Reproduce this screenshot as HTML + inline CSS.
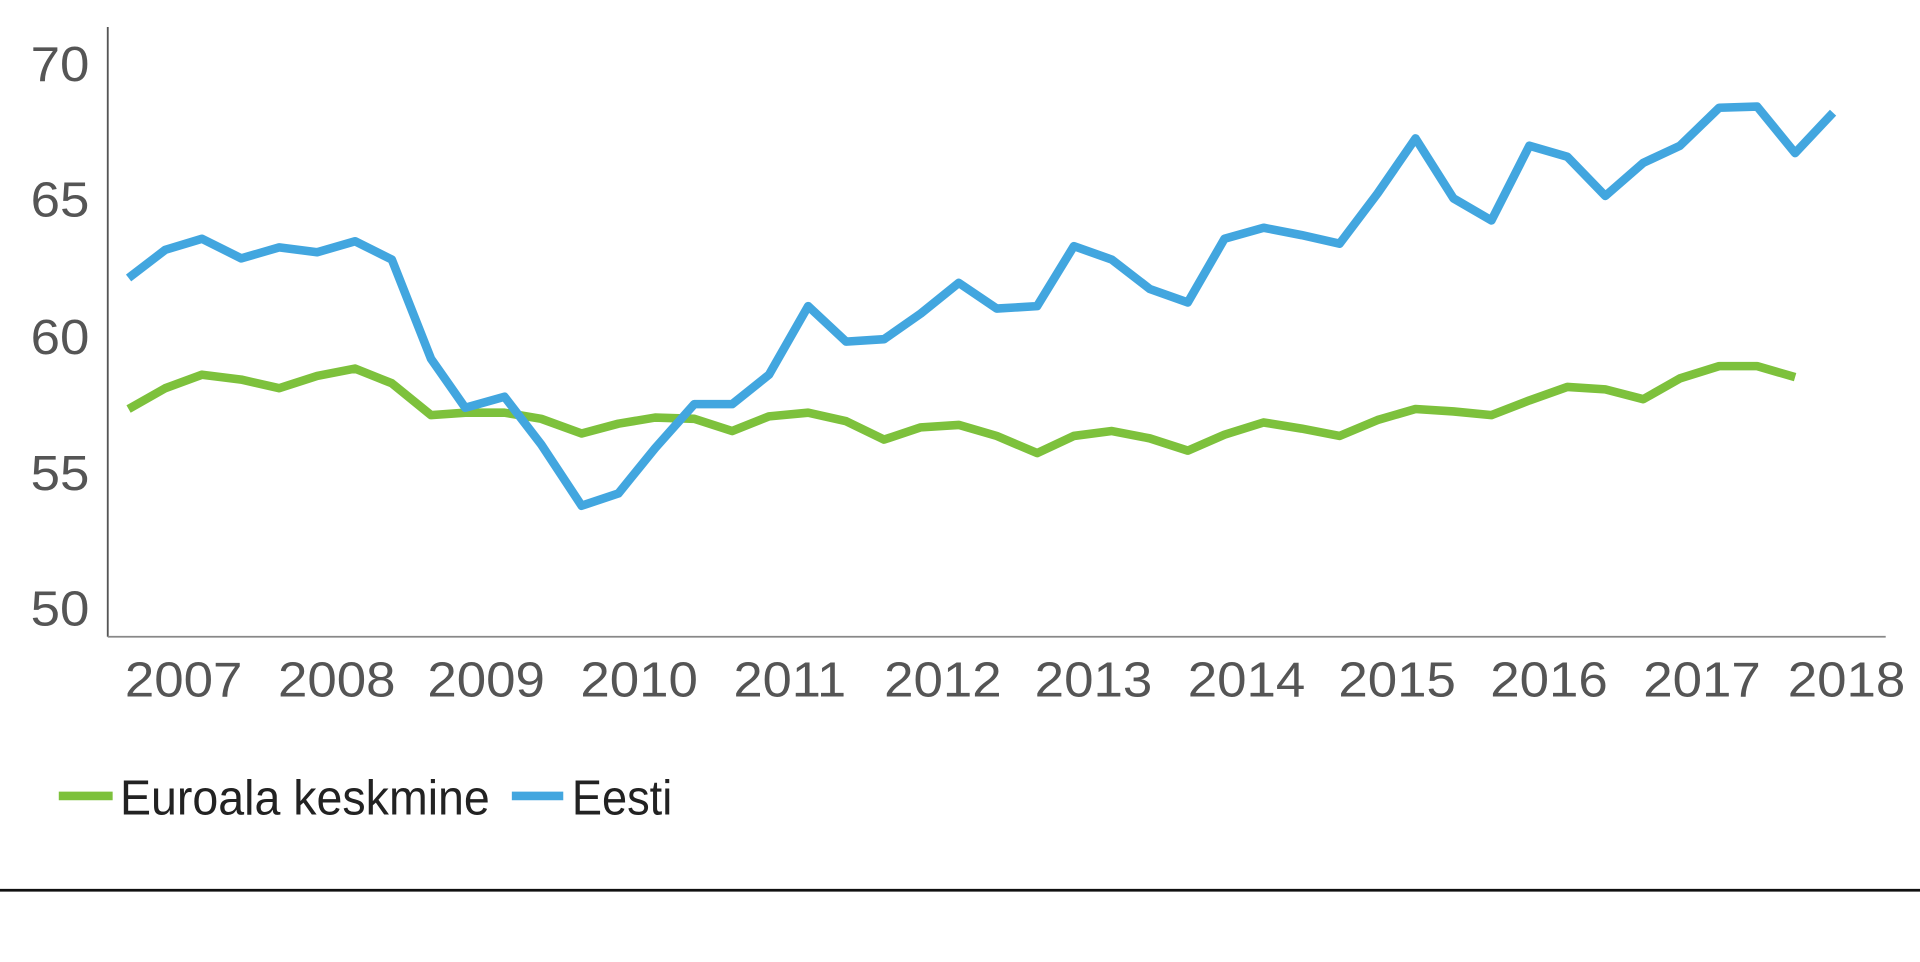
<!DOCTYPE html>
<html><head><meta charset="utf-8"><style>
html,body{margin:0;padding:0;background:#fff;width:1920px;height:962px;overflow:hidden}
svg{display:block}
</style></head><body>
<svg width="1920" height="962" viewBox="0 0 1568 785.6" preserveAspectRatio="none" xmlns="http://www.w3.org/2000/svg">
<rect width="1568" height="785.6" fill="#fff"/>
<g font-family="Liberation Sans, sans-serif" fill="#555" font-size="40">
<text x="73" y="66" text-anchor="end" textLength="48" lengthAdjust="spacingAndGlyphs">70</text>
<text x="73" y="177" text-anchor="end" textLength="48" lengthAdjust="spacingAndGlyphs">65</text>
<text x="73" y="289" text-anchor="end" textLength="48" lengthAdjust="spacingAndGlyphs">60</text>
<text x="73" y="400" text-anchor="end" textLength="48" lengthAdjust="spacingAndGlyphs">55</text>
<text x="73" y="511" text-anchor="end" textLength="48" lengthAdjust="spacingAndGlyphs">50</text>
<g text-anchor="middle">
<text x="150" y="569" textLength="96" lengthAdjust="spacingAndGlyphs">2007</text>
<text x="275" y="569" textLength="96" lengthAdjust="spacingAndGlyphs">2008</text>
<text x="397" y="569" textLength="96" lengthAdjust="spacingAndGlyphs">2009</text>
<text x="522" y="569" textLength="96" lengthAdjust="spacingAndGlyphs">2010</text>
<text x="645" y="569" textLength="92" lengthAdjust="spacingAndGlyphs">2011</text>
<text x="770" y="569" textLength="96" lengthAdjust="spacingAndGlyphs">2012</text>
<text x="893" y="569" textLength="96" lengthAdjust="spacingAndGlyphs">2013</text>
<text x="1018" y="569" textLength="96" lengthAdjust="spacingAndGlyphs">2014</text>
<text x="1141" y="569" textLength="96" lengthAdjust="spacingAndGlyphs">2015</text>
<text x="1265" y="569" textLength="96" lengthAdjust="spacingAndGlyphs">2016</text>
<text x="1390" y="569" textLength="96" lengthAdjust="spacingAndGlyphs">2017</text>
<text x="1508" y="569" textLength="96" lengthAdjust="spacingAndGlyphs">2018</text>
</g>
</g>
<line x1="88" y1="22" x2="88" y2="520" stroke="#555" stroke-width="1.5"/>
<line x1="88" y1="520" x2="1540" y2="520" stroke="#888" stroke-width="1.5"/>
<polyline fill="none" stroke="#7dc13c" stroke-width="7" stroke-linejoin="round" points="105,334 135,317 165,306 197,310 228,317 259,307 290,301 320,313 352,339 380,337 412,337 442,342 475,354 505,346 535,341 567,342 598,352 628,340 660,337 691,344 722,359 752,349 783,347 814,356 847,370 877,356 908,352 939,358 970,368 1000,355 1032,345 1063,350 1094,356 1125,343 1156,334 1187,336 1218,339 1249,327 1280,316 1311,318 1342,326 1372,309 1404,299 1435,299 1466,308"/>
<polyline fill="none" stroke="#42a6df" stroke-width="7" stroke-linejoin="round" points="105,227 135,204 165,195 197,211 228,202 259,206 290,197 320,212 352,293 380,333 412,324 442,363 475,413 505,403 535,366 567,330 598,330 628,306 660,250 691,279 722,277 752,256 783,231 814,252 847,250 877,201 908,212 939,236 970,247 1000,195 1032,186 1063,192 1094,199 1125,158 1156,113 1187,162 1218,180 1249,119 1280,128 1311,160 1342,133 1372,119 1404,88 1435,87 1466,125 1497,92"/>
<line x1="48" y1="650" x2="92" y2="650" stroke="#7dc13c" stroke-width="7"/>
<line x1="418" y1="650" x2="460" y2="650" stroke="#42a6df" stroke-width="7"/>
<g font-family="Liberation Sans, sans-serif" fill="#222" font-size="40">
<text x="98" y="665" textLength="302" lengthAdjust="spacingAndGlyphs">Euroala keskmine</text>
<text x="467" y="665" textLength="82" lengthAdjust="spacingAndGlyphs">Eesti</text>
</g>
<line x1="0" y1="727" x2="1568" y2="727" stroke="#111" stroke-width="2.2"/>
</svg>
</body></html>
